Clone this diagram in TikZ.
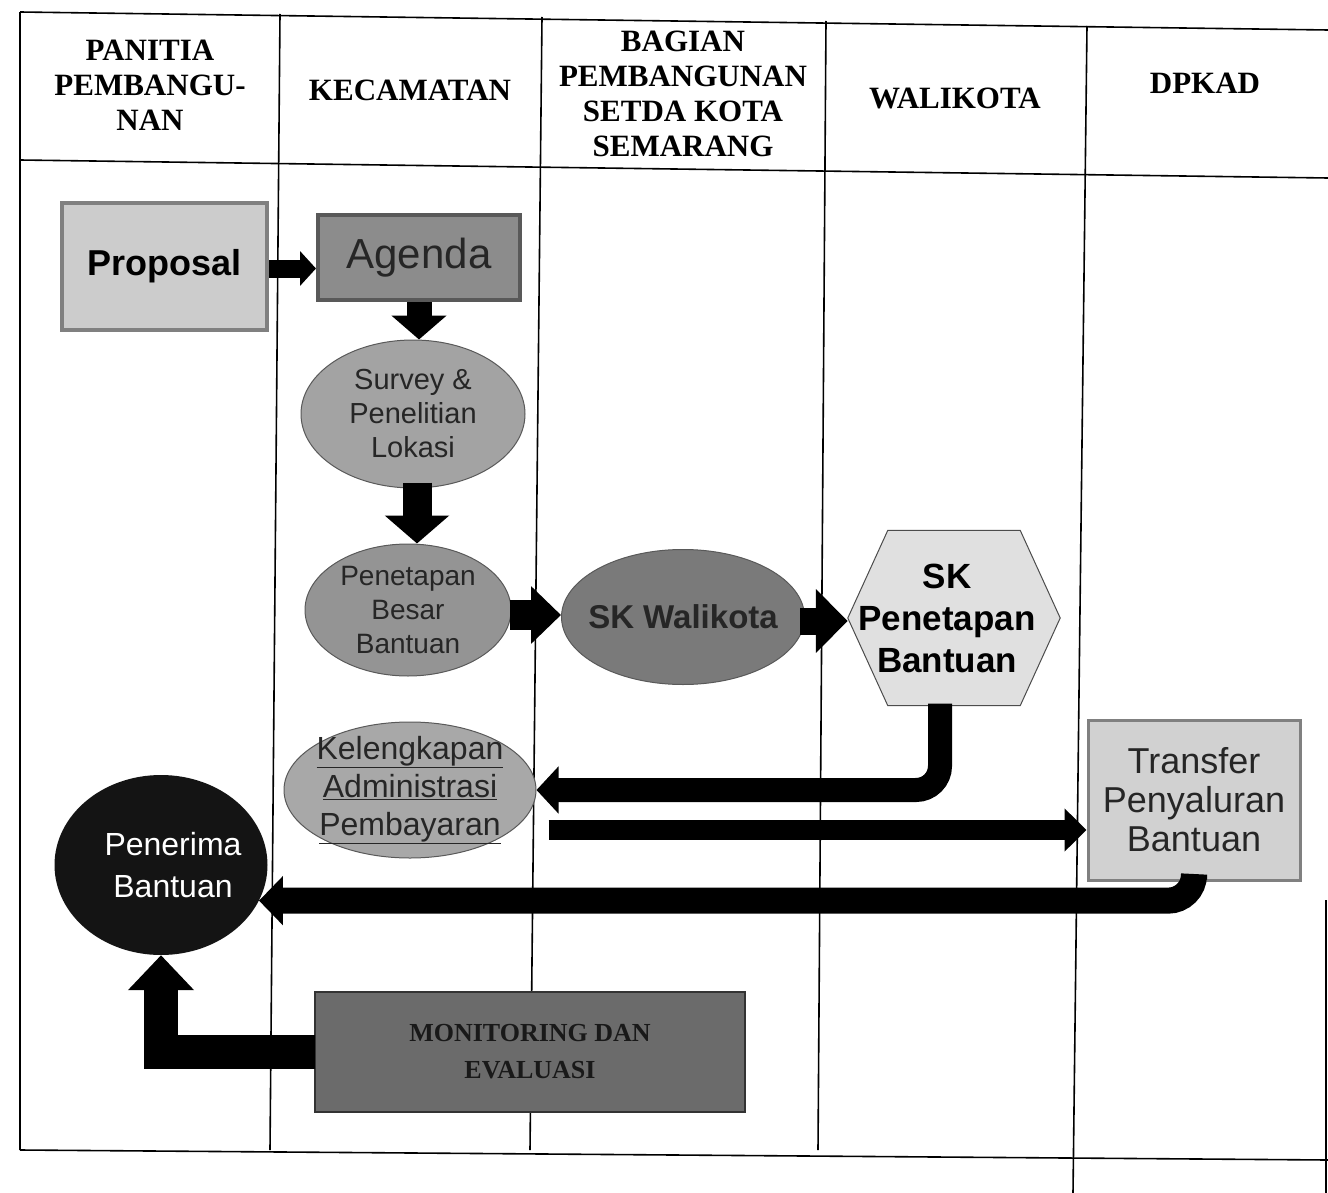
\documentclass[tikz,border=0pt]{standalone}
\usepackage{fontspec}
\setmainfont{Liberation Sans}
\newfontfamily\hdrfont{Liberation Serif}
\usetikzlibrary{shapes.geometric,arrows.meta,calc}
\begin{document}
\begin{tikzpicture}[x=1pt,y=-1pt,
  every node/.style={inner sep=0pt, align=center},
  frameline/.style={line width=1.6pt, black},
  hdrtxt/.style={font=\hdrfont\bfseries\fontsize{31}{35}\selectfont},
  ovalbox/.style={ellipse, draw=black!65, line width=1pt, fill=black!#1},
  conn/.style={draw=black, line width=#1},
  dtxt/.style={text=black!85},
]
\useasboundingbox[fill=white] (0,0) rectangle (1328,1193);

% ---- table frame ----
\draw[frameline] (20,12) -- (1328,30);
\draw[frameline] (20,160) -- (1328,178);
\draw[frameline] (20,1150) -- (1328,1160);
\draw[frameline] (20,12) -- (20,1150);
\draw[frameline] (280,14) -- (270,1150);
\draw[frameline] (542,17) -- (530,1150);
\draw[frameline] (826,21) -- (818,1150);
\draw[frameline] (1087,26) -- (1073,1193);
\draw[frameline] (1326,900) -- (1326,1193);

% ---- headers ----
\node[hdrtxt] (h1) at (150,85) {PANITIA\\PEMBANGU-\\NAN};
\node[hdrtxt] (h2) at (410,90) {KECAMATAN};
\node[hdrtxt] (h3) at (683,94) {BAGIAN\\PEMBANGUNAN\\SETDA KOTA\\SEMARANG};
\node[hdrtxt] (h4) at (955,98) {WALIKOTA};
\node[hdrtxt] (h5) at (1205,83) {DPKAD};

% ---- nodes ----
\node[rectangle, minimum width=205pt, minimum height=127pt, fill=black!20, draw=black!50, line width=4pt,
      font=\bfseries\fontsize{36}{40}\selectfont] (prop) at (164.5,266.5) {Proposal};
\node[rectangle, minimum width=202pt, minimum height=85pt, fill=black!45, draw=black!65, line width=4pt,
      font=\fontsize{42}{46}\selectfont, dtxt] (agenda) at (419,257.5) {Agenda};
\node[ovalbox=36, minimum width=224pt, minimum height=148pt,
      label={[font=\fontsize{29}{34}\selectfont, dtxt]center:Survey \&\\Penelitian\\Lokasi}] (survey) at (413,414) {};
\node[ovalbox=42, minimum width=206pt, minimum height=132pt,
      label={[font=\fontsize{28}{34}\selectfont, dtxt]center:Penetapan\\Besar\\Bantuan}] (penet) at (408,610) {};
\node[ovalbox=52, minimum width=243pt, minimum height=135pt,
      label={[font=\bfseries\fontsize{33}{36}\selectfont, dtxt]center:SK Walikota}] (skw) at (683,617) {};
\node[rectangle, minimum width=212pt, minimum height=175pt] (hex) at (954,618) {};
\fill[black!12] (hex.west) -- ([xshift=40pt]hex.north west) -- ([xshift=-40pt]hex.north east) -- (hex.east)
   -- ([xshift=-40pt]hex.south east) -- ([xshift=40pt]hex.south west) -- cycle;
\draw[black!70, line width=1pt] (hex.west) -- ([xshift=40pt]hex.north west) -- ([xshift=-40pt]hex.north east) -- (hex.east)
   -- ([xshift=-40pt]hex.south east) -- ([xshift=40pt]hex.south west) -- cycle;
\node[font=\bfseries\fontsize{35}{42}\selectfont] (hextxt) at ($(hex.center)+(-7,0)$) {SK\\Penetapan\\Bantuan};
\node[ovalbox=34, minimum width=252pt, minimum height=136pt,
      label={[font=\fontsize{32}{38}\selectfont, dtxt]center:\underline{Kelengkapan}\\\underline{Administrasi}\\\underline{Pembayaran}}] (kel) at (410,790) {};
\node[rectangle, minimum width=212pt, minimum height=160pt, fill=black!18, draw=black!50, line width=3pt,
      font=\fontsize{36}{39}\selectfont, dtxt] (trans) at (1194,800) {Transfer\\Penyaluran\\Bantuan};
\node[ellipse, minimum width=213pt, minimum height=180pt, fill=black!92,
      label={[font=\fontsize{32}{42}\selectfont, text=white, xshift=12pt]center:Penerima\\Bantuan}] (pen) at (161,865) {};
\node[rectangle, minimum width=430pt, minimum height=120pt, fill=black!58, draw=black!80, line width=1.5pt,
      font=\hdrfont\bfseries\fontsize{26}{37}\selectfont, text=black!90] (mon) at (530,1052) {MONITORING DAN\\EVALUASI};

% ---- connectors ----
\draw[conn=18pt, -{Triangle[length=16pt,width=34pt]}] ($(prop.east)+(0,2)$) -- ($(prop.east -| agenda.west)+(0,2)$);
\draw[conn=25pt, -{Triangle[length=24pt,width=54pt]}] (agenda.south) -- (agenda.south |- survey.north);
\draw[conn=29pt, -{Triangle[length=28pt,width=63pt]}] ($(survey.south)+(4,-6)$) -- ($(penet.north)+(9,0)$);
\draw[conn=30pt, -{Triangle[length=30pt,width=56pt]}] ($(penet.east)+(-2,5)$) -- ($(penet.east -| skw.west)+(0,5)$);
\draw[conn=27pt, -{Triangle[length=32pt,width=62pt]}] ($(skw.east)+(-5,4)$) -- ($(skw.east -| hex.west)+(0,4)$);
\draw[conn=24pt, rounded corners=24pt, -{Triangle[length=22pt,width=46pt]}] ($(hex.south)+(-14,-2)$) |- (kel.east);
\coordinate (kout) at ($(kel.east)+(12,40)$);
\draw[conn=20pt, -{Triangle[length=22pt,width=42pt]}] (kout) -- (kout -| trans.west);
\draw[conn=26pt, rounded corners=26pt, -{Triangle[length=24pt,width=48pt]}] ($(trans.south)+(0,-2)$) |- (pen.-20);
\draw[conn=34pt, line join=miter, -{Triangle[length=35pt,width=64pt]}] ($(mon.west)+(1,0)$) -| (pen.south);
\end{tikzpicture}
\end{document}
